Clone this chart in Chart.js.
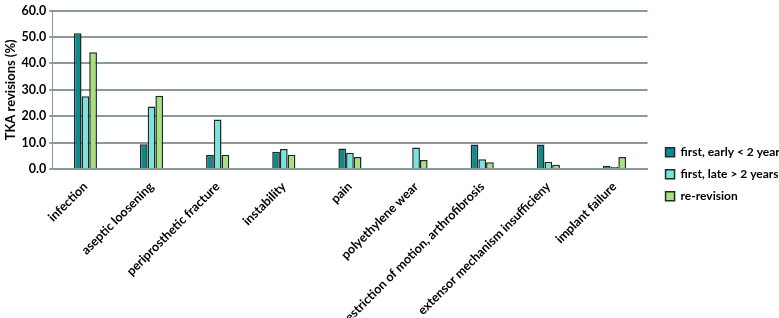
<!DOCTYPE html>
<html>
<head>
  <title>TKA revisions</title>
  <script src="https://cdn.jsdelivr.net/npm/chart.js"></script>
  <style>
    body {
      margin: 0;
      background-color: #fff;
      overflow: hidden;
    }
    .chart-box {
      width: 779px;
      height: 318px;
    }
  </style>
</head>
<body>
  <div class="chart-box">
    <canvas id="tkaChart"></canvas>
  </div>

  <script>
    const categories = [
      'infection',
      'aseptic loosening',
      'periprosthetic fracture',
      'instability',
      'pain',
      'polyethylene wear',
      'restriction of motion, arthrofibrosis',
      'extensor mechanism insufficieny',
      'implant failure'
    ];
    const firstEarly = [51.4, 9.4, 5.4, 6.6, 7.8, 0, 9.3, 9.3, 1.3];
    const firstLate = [27.6, 23.7, 18.8, 7.6, 6.2, 8.2, 3.8, 2.8, 0.8];
    const reRevision = [44.2, 27.8, 5.5, 5.5, 4.6, 3.5, 2.6, 1.7, 4.6];
    const yTicks = [0, 10, 20, 30, 40, 50, 60];

    const fontFamily = 'Lato, "Open Sans", sans-serif';

    function makeSet(label, data, color) {
      return {
        label: label,
        data: data,
        backgroundColor: color,
        borderColor: '#1e2a2a',
        borderWidth: 1.5,
        borderSkipped: 'bottom',
        categoryPercentage: 0.35,
        barPercentage: 1.0
      };
    }

    // push the legend a little to the right, like in the original (text runs off the edge)
    const legendShift = {
      id: 'legendShift',
      afterLayout(chart) {
        chart.legend.left += 8;
        chart.legend.right += 8;
      }
    };

    const ctx = document.getElementById('tkaChart').getContext('2d');
    const chart = new Chart(ctx, {
      type: 'bar',
      data: {
        labels: categories,
        datasets: [
          makeSet('first, early < 2 years', firstEarly, '#11888a'),
          makeSet('first, late > 2 years', firstLate, '#7ae3dc'),
          makeSet('re-revision', reRevision, '#a8e07c')
        ]
      },
      options: {
        responsive: true,
        maintainAspectRatio: false,
        animation: false,
        layout: {
          padding: { top: 4, right: -8, left: 3, bottom: -12 }
        },
        scales: {
          x: {
            grid: { display: false },
            border: { color: '#8a9a9a', width: 2 },
            ticks: {
              color: '#000',
              minRotation: 45,
              maxRotation: 45,
              autoSkip: false,
              padding: 2,
              font: { family: fontFamily, size: 12.5, weight: 'bold' }
            }
          },
          y: {
            min: 0,
            max: 60,
            afterBuildTicks: function(axis) {
              axis.ticks = yTicks.map(v => ({ value: v }));
            },
            grid: {
              color: '#8a9a9a',
              lineWidth: 2,
              tickLength: 3
            },
            border: { color: '#8a9a9a', width: 1 },
            title: {
              display: true,
              text: 'TKA revisions (%)',
              color: '#000',
              padding: 0,
              font: { family: fontFamily, size: 13, weight: 'bold' }
            },
            ticks: {
              color: '#000',
              padding: 3,
              callback: function(value) {
                return value.toFixed(1);
              },
              font: { family: fontFamily, size: 12.5, weight: 'bold' }
            }
          }
        },
        plugins: {
          legend: {
            position: 'right',
            align: 'center',
            title: {
              display: true,
              text: ' ',
              padding: 0
            },
            labels: {
              color: '#000',
              boxWidth: 9,
              boxHeight: 9,
              padding: 10,
              font: { family: fontFamily, size: 12, weight: 'bold' }
            }
          },
          tooltip: { enabled: false }
        }
      },
      plugins: [legendShift]
    });
  </script>
</body>
</html>
